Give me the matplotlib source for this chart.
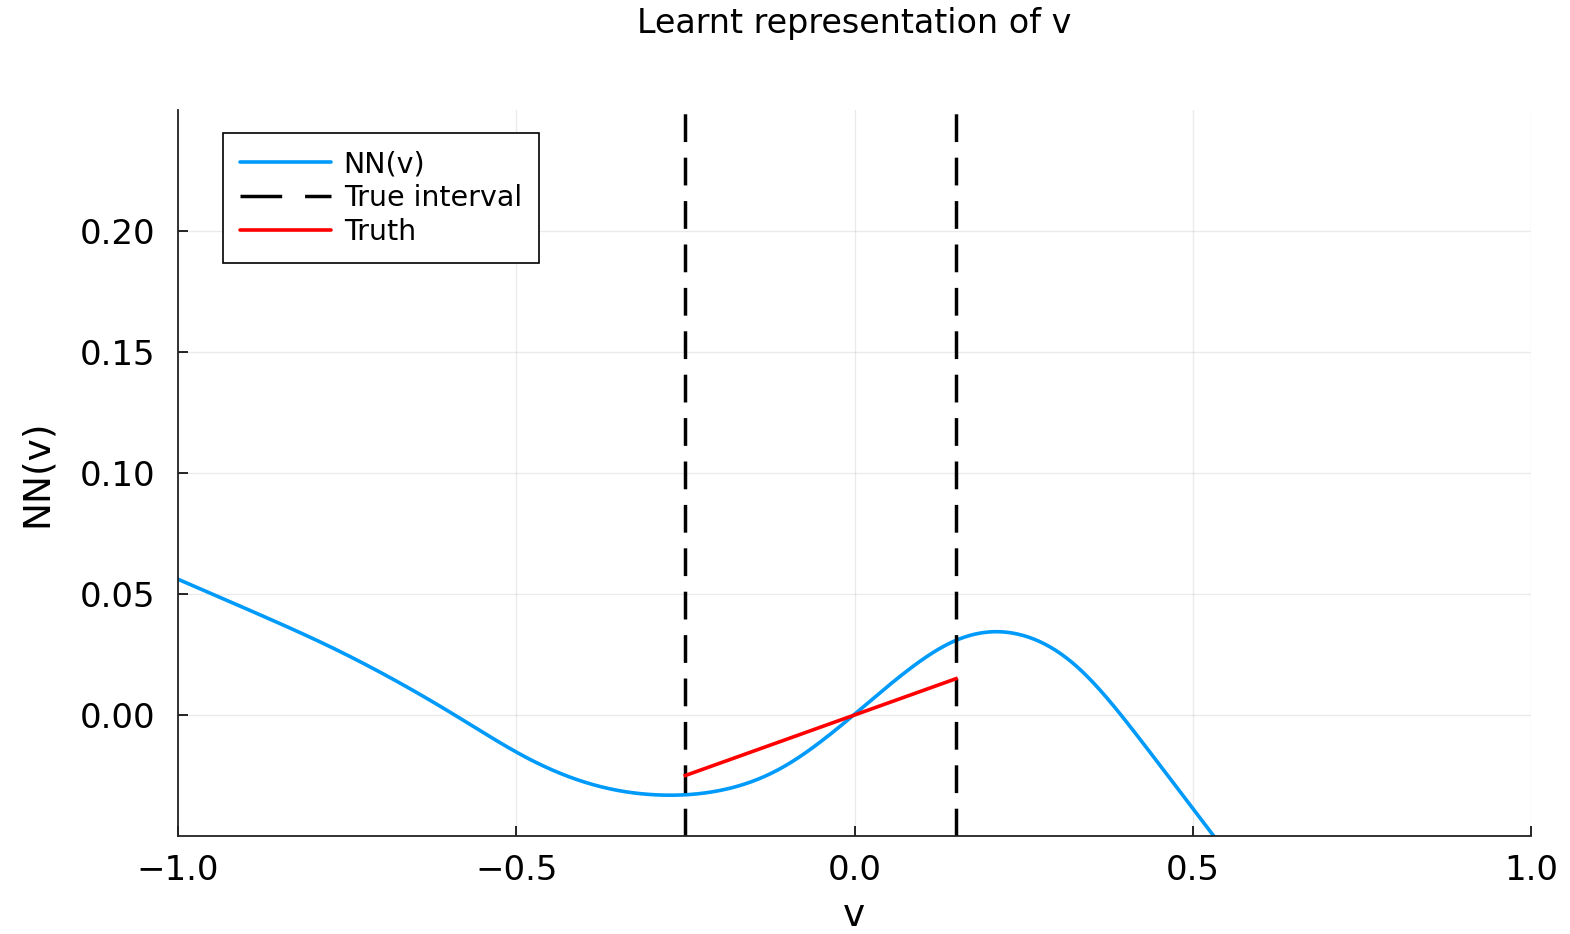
import numpy as np
import matplotlib
matplotlib.use("Agg")
import matplotlib.pyplot as plt
from matplotlib.lines import Line2D

# ---- data ----
nn_v = [-1.0, -0.882, -0.775, -0.591, -0.480, -0.381, -0.283, -0.209,
        -0.110, -0.0115, 0.072, 0.153, 0.205, 0.2447, 0.3234, 0.422,
        0.533, 0.58]
nn_y = [0.0561, 0.0418, 0.0282, 0.0, -0.0183, -0.0292, -0.0331, -0.0317,
        -0.0222, -0.0024, 0.0170, 0.0312, 0.0344, 0.0332, 0.0213, -0.0100,
        -0.0508, -0.0680]
interval = [-0.25, 0.15]
truth_v = [-0.25, 0.15]
truth_y = [-0.025, 0.015]
xticks = [-1.0, -0.5, 0.0, 0.5, 1.0]
yticks = [0.00, 0.05, 0.10, 0.15, 0.20]
labels = ['NN(v)', 'True interval', 'Truth']


def natural_spline(x, y, xs):
    x = np.asarray(x, float); y = np.asarray(y, float)
    n = len(x)
    h = np.diff(x)
    A = np.zeros((n, n)); b = np.zeros(n)
    A[0, 0] = 1; A[-1, -1] = 1
    for i in range(1, n - 1):
        A[i, i - 1] = h[i - 1]
        A[i, i] = 2 * (h[i - 1] + h[i])
        A[i, i + 1] = h[i]
        b[i] = 3 * ((y[i + 1] - y[i]) / h[i] - (y[i] - y[i - 1]) / h[i - 1])
    c = np.linalg.solve(A, b)
    idx = np.clip(np.searchsorted(x, xs) - 1, 0, n - 2)
    bb = (y[1:] - y[:-1]) / h - h * (2 * c[:-1] + c[1:]) / 3
    d = (c[1:] - c[:-1]) / (3 * h)
    t = xs - x[idx]
    return y[idx] + bb[idx] * t + c[idx] * t**2 + d[idx] * t**3


plt.rcParams['font.family'] = ['DejaVu Sans']
fig = plt.figure(figsize=(15.7, 9.34), dpi=100)
ax = fig.add_axes([178/1570, 1 - 836/934, (1531-178)/1570, (836-110)/934])

BLUE = '#009AFA'
xs = np.linspace(nn_v[0], nn_v[-1], 800)
ax.plot(xs, natural_spline(nn_v, nn_y, xs), color=BLUE, lw=2.6,
        solid_capstyle='round')
for xv in interval:
    ax.axvline(xv, color='black', lw=2.5, dashes=(8.0, 4.5))
ax.plot(truth_v, truth_y, color='#FF0000', lw=2.6)

ax.set_xlim(-1.0, 1.0)
ax.set_ylim(-0.05, 0.25)
ax.set_xticks(xticks)
ax.set_yticks(yticks)
ax.set_xticklabels(['\u22121.0', '\u22120.5', '0.0', '0.5', '1.0'])
ax.set_yticklabels(['0.00', '0.05', '0.10', '0.15', '0.20'])
ax.tick_params(direction='in', length=7, width=1.2, labelsize=24.5)
ax.tick_params(axis='y', pad=16)
ax.tick_params(axis='x', pad=13)
ax.grid(True, color='black', alpha=0.08, lw=1.0)
for s in ['top', 'right']:
    ax.spines[s].set_visible(False)
for s in ['left', 'bottom']:
    ax.spines[s].set_linewidth(1.3)
    ax.spines[s].set_color('#222222')

ax.set_xlabel('v', fontsize=27, labelpad=8)
ax.set_ylabel('NN(v)', fontsize=27, labelpad=18)
fig.text((178+1531)/2/1570, 1 - 23/934, 'Learnt representation of v',
         ha='center', va='center', fontsize=24)

handles = [Line2D([], [], color=BLUE, lw=2.6, solid_capstyle='round'),
           Line2D([], [], color='black', lw=2.5, dashes=(12.0, 6.6)),
           Line2D([], [], color='#FF0000', lw=2.6, solid_capstyle='round')]
leg = ax.legend(handles, labels, loc='upper left', bbox_to_anchor=(0.033, 0.968),
                fontsize=20.5, frameon=True, fancybox=False, edgecolor='black',
                framealpha=1, handlelength=3.2, handletextpad=0.45,
                labelspacing=0.2, borderpad=0.6, borderaxespad=0)
leg.get_frame().set_linewidth(1.2)

fig.savefig('out.png', dpi=100)
